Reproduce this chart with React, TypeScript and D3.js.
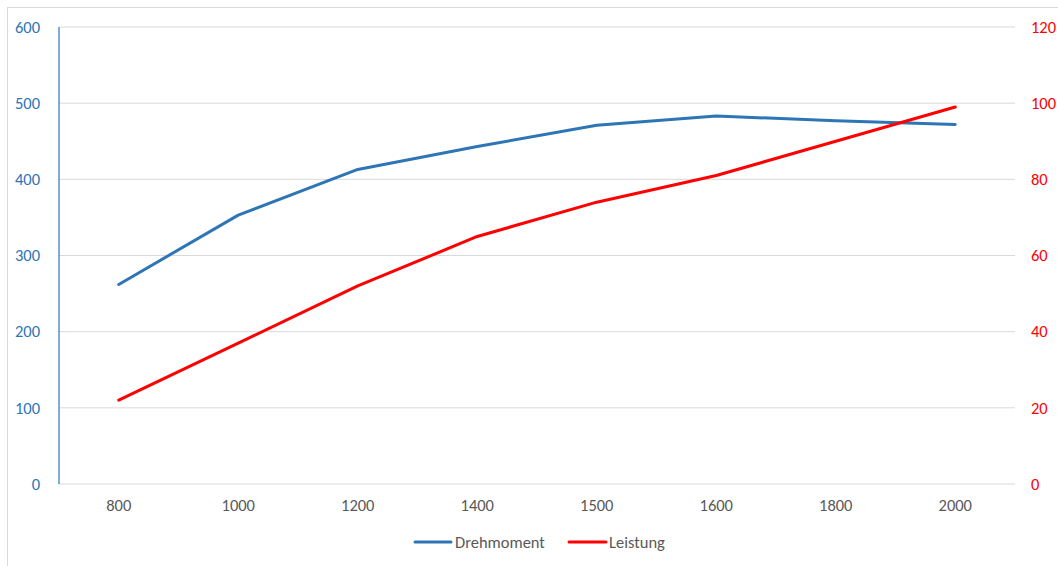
import React from "react";
import * as d3 from "d3";

const categories = ["800", "1000", "1200", "1400", "1500", "1600", "1800", "2000"];
const drehmoment = [262, 353, 413, 443, 471, 483, 477, 472];
const leistung = [22, 37, 52, 65, 74, 81, 90, 99];
const leftTicks = [0, 100, 200, 300, 400, 500, 600];
const rightTicks = [0, 20, 40, 60, 80, 100, 120];

const W = 1058;
const H = 566;
const left = 59;
const right = 1015;
const top = 27;
const bottom = 484;
const BLUE = "#2e75b6";
const RED = "#ff0000";
const FONT = "Calibri, Carlito, 'Open Sans', sans-serif";
const FS = 16.5;

export default function App() {
  const x = d3.scaleBand<string>().domain(categories).range([left, right]);
  const yL = d3.scaleLinear().domain([0, 600]).range([bottom, top]);
  const yR = d3.scaleLinear().domain([0, 120]).range([bottom, top]);
  const cx = (c: string) => (x(c) as number) + x.bandwidth() / 2;

  const lineL = d3
    .line<number>()
    .x((_, i) => cx(categories[i]))
    .y((d) => yL(d));
  const lineR = d3
    .line<number>()
    .x((_, i) => cx(categories[i]))
    .y((d) => yR(d));

  return (
    <svg
      width={W}
      height={H}
      style={{ position: "absolute", left: 0, top: 0, background: "#fff" }}
      fontFamily={FONT}
    >
      <rect x={7.5} y={7.5} width={W + 20} height={H + 20} fill="#fff" stroke="#d9d9d9" />
      {leftTicks.map((t) => (
        <line key={t} x1={left} x2={right} y1={yL(t)} y2={yL(t)} stroke="#d9d9d9" strokeWidth={1} />
      ))}
      <line x1={left} x2={left} y1={top} y2={bottom} stroke={BLUE} strokeWidth={1.2} />
      {leftTicks.map((t) => (
        <text key={t} x={40} y={yL(t)} dy="0.35em" textAnchor="end" fontSize={FS} fill={BLUE}>
          {t}
        </text>
      ))}
      {rightTicks.map((t) => (
        <text key={t} x={1031} y={yR(t)} dy="0.35em" textAnchor="start" fontSize={FS} fill={RED}>
          {t}
        </text>
      ))}
      {categories.map((c) => (
        <text key={c} x={cx(c)} y={505} dy="0.35em" textAnchor="middle" fontSize={FS} fill="#595959">
          {c}
        </text>
      ))}
      <path d={lineL(drehmoment) || ""} fill="none" stroke={BLUE} strokeWidth={3} strokeLinecap="round" strokeLinejoin="round" />
      <path d={lineR(leistung) || ""} fill="none" stroke={RED} strokeWidth={3} strokeLinecap="round" strokeLinejoin="round" />
      <g>
        <line x1={415} x2={451} y1={542} y2={542} stroke={BLUE} strokeWidth={3} strokeLinecap="round" />
        <text x={455} y={542} dy="0.35em" fontSize={FS} fill="#595959">Drehmoment</text>
        <line x1={569} x2={606} y1={542} y2={542} stroke={RED} strokeWidth={3} strokeLinecap="round" />
        <text x={609} y={542} dy="0.35em" fontSize={FS} fill="#595959">Leistung</text>
      </g>
    </svg>
  );
}
